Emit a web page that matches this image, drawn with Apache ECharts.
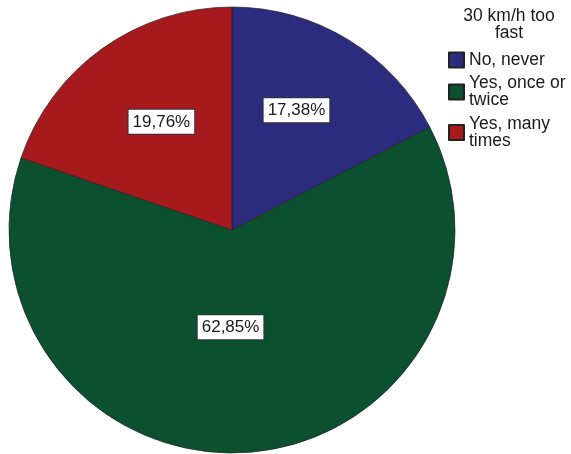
<!DOCTYPE html>
<html>
<head>
<meta charset="utf-8">
<script src="https://cdn.jsdelivr.net/npm/echarts@6/dist/echarts.min.js"></script>
<style>html,body{margin:0;padding:0;background:#fff;}#c{width:571px;height:454px;}</style>
</head>
<body>
<div id="c"></div>
<script>
const categories = ['No, never', 'Yes, once or\ntwice', 'Yes, many\ntimes'];
const values = [17.38, 62.85, 19.76];
const colors = ['#2c2c7e', '#0b5130', '#a6191d'];
const legendTitle = '30 km/h too\nfast';
const labelOffsets = [[5, -22], [-10, -17], [-4, -15]];
const legendTextPadding = [[6.5, 0, 6.5, 0], [13, 0, 0, 0], [13, 0, 0, 0]];

const chart = echarts.init(document.getElementById('c'));
chart.setOption({
  backgroundColor: '#fff',
  animation: false,
  title: {
    text: legendTitle,
    left: 504,
    top: 3,
    textAlign: 'center',
    textStyle: { fontFamily: 'Liberation Sans, Arial', fontSize: 17.5, fontWeight: 'normal', color: '#1a1a1a', lineHeight: 17 }
  },
  legend: {
    orient: 'vertical',
    left: 443,
    top: 40,
    itemWidth: 15,
    itemHeight: 15,
    itemGap: -6.5,
    icon: 'rect',
    data: categories.map((n, i) => ({ name: n, textStyle: { padding: legendTextPadding[i] } })),
    textStyle: { fontFamily: 'Liberation Sans, Arial', fontSize: 17.5, color: '#1a1a1a', lineHeight: 17 }
  },
  series: [{
    type: 'pie',
    center: [232, 230],
    radius: 223,
    startAngle: 90,
    clockwise: true,
    avoidLabelOverlap: false,
    itemStyle: { borderColor: '#222', borderWidth: 0.7 },
    label: {
      show: true,
      position: 'inside',
      formatter: p => p.value.toFixed(2).replace('.', ',') + '%',
      fontFamily: 'Liberation Sans, Arial',
      fontSize: 17,
      color: '#1a1a1a',
      backgroundColor: '#fff',
      borderColor: '#333',
      borderWidth: 1,
      padding: [4, 4, 3, 4]
    },
    labelLine: { show: false },
    emphasis: { disabled: true },
    data: categories.map((n, i) => ({
      name: n,
      value: values[i],
      itemStyle: { color: colors[i] },
      label: { offset: labelOffsets[i] }
    }))
  }]
});
</script>
</body>
</html>
